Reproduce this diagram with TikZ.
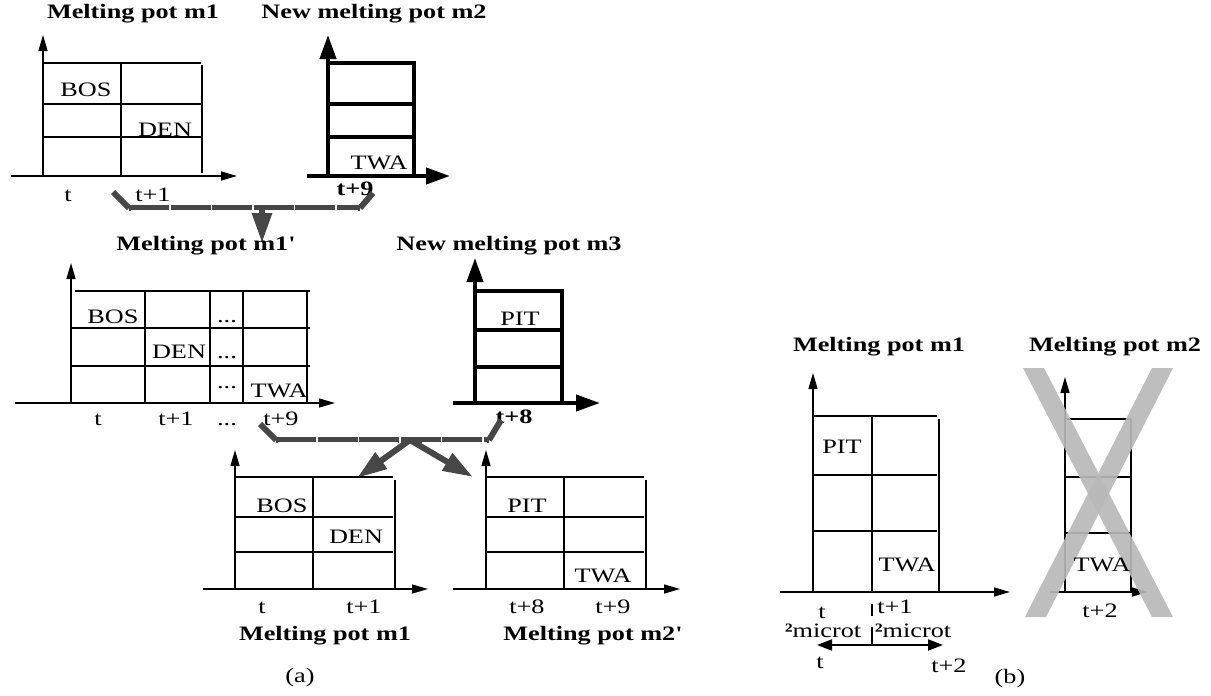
\documentclass[tikz,border=0pt]{standalone}
\usepackage{fontspec}
\setmainfont{Liberation Serif}
\usetikzlibrary{arrows.meta}
\newcommand{\sx}[1]{\scalebox{1.28}[1]{#1}}
\begin{document}
\begin{tikzpicture}[x=1pt,y=-1pt,
  every node/.style={inner sep=0pt,anchor=base,font=\fontsize{20.5}{24}\selectfont},
  ttl/.style={font=\fontsize{20.5}{24}\selectfont\bfseries},
  bt/.style={font=\fontsize{20.5}{24}\selectfont\bfseries},
  thinl/.style={line width=1.3pt},
  heavy/.style={line width=4pt},
  thinax/.style={line width=1.3pt,-{Triangle[width=9pt,length=16pt]}},
  heavyax/.style={line width=4pt,-{Triangle[width=16pt,length=24pt]}},
  bar/.style={line width=6pt,draw=black!72,line join=miter},
  bardash/.style={bar,dash pattern=on 40pt off 1.5pt},
  barseam/.style={draw=white,line width=0.7pt},
  bararrow/.style={bar,-{Triangle[width=19pt,length=30pt]},fill=black!72},
  cross/.style={fill=black!28,draw=none}
]
\useasboundingbox (0,0) rectangle (1211,696);

% ---------- Panel 1: Melting pot m1 ----------
\draw[thinax] (43,176) -- (43,35);
\draw[thinax] (11,176) -- (237,176);
\draw[thinl] (43,63) -- (201,63) (43,104) -- (201,104) (43,137) -- (201,137);
\draw[thinl] (121,63) -- (121,176) (202,65) -- (202,173);
\node[ttl] (p1t) at (133,19) {\sx{Melting pot m1}};
\node (p1bos) at (86,96) {\sx{BOS}};
\node (p1den) at (165,136) {\sx{DEN}};
\node (p1l1) at (68,201) {\sx{t}};
\node (p1l2) at (153,201) {\sx{t+1}};

% ---------- Panel 2: New melting pot m2 ----------
\draw[heavyax] (328,178) -- (328,35);
\draw[heavyax] (307,176) -- (450,176);
\draw[heavy] (326,63) -- (416,63) (328,104) -- (414,104) (328,137) -- (414,137);
\draw[heavy] (414,61) -- (414,176);
\node[ttl] (p2t) at (374,19) {\sx{New melting pot m2}};
\node (p2twa) at (379,169) {\sx{TWA}};
\node[bt] (p2l) at (355,195) {\sx{t+9}};

% ---------- Bracket 1 ----------
\coordinate (b1a) at (113,192);
\coordinate (b1b) at (129,208);
\coordinate (b1c) at (360,208);
\coordinate (b1d) at (373,193);
\coordinate (b1m) at (262,208);
\coordinate (b1t) at (262,243);
\coordinate (s1a) at (131,210);
\coordinate (s1b) at (358,210);
\draw[bar] (b1a) -- (b1b);
\draw[bardash] (b1b) -- (b1c);
\draw[bar] (b1c) -- (b1d);
\draw[barseam] (s1a) -- (s1b);
\draw[bararrow] (b1m) -- (b1t);

% ---------- Panel 3: Melting pot m1' ----------
\draw[thinax] (71,403) -- (71,263);
\draw[thinax] (15,403) -- (335,403);
\draw[thinl] (75,291) -- (310,291) (71,328) -- (310,328) (71,366) -- (310,366);
\draw[thinl] (145,291) -- (145,403) (210,291) -- (210,403) (243,291) -- (243,403) (307,291) -- (307,403);
\node[ttl] (p3t) at (206,250) {\sx{Melting pot m1\textquotesingle}};
\node (p3bos) at (113,323) {\sx{BOS}};
\node (p3den) at (179,358) {\sx{DEN}};
\node (p3d1) at (227,322) {\sx{...}};
\node (p3d2) at (227,358) {\sx{...}};
\node (p3d3) at (227,388) {\sx{...}};
\node (p3twa) at (279,397) {\sx{TWA}};
\node (p3l1) at (98,425) {\sx{t}};
\node (p3l2) at (176,425) {\sx{t+1}};
\node (p3l3) at (227,425) {\sx{...}};
\node (p3l4) at (281,425) {\sx{t+9}};

% ---------- Panel 4: New melting pot m3 ----------
\draw[heavyax] (475,405) -- (475,258);
\draw[heavyax] (453,403) -- (600,403);
\draw[heavy] (473,291) -- (564,291) (475,330) -- (562,330) (475,367) -- (562,367);
\draw[heavy] (562,289) -- (562,403);
\node[ttl] (p4t) at (509,250) {\sx{New melting pot m3}};
\node (p4pit) at (520,325) {\sx{PIT}};
\node[bt] (p4l) at (514,423) {\sx{t+8}};

% ---------- Bracket 2 ----------
\coordinate (b2a) at (260,424);
\coordinate (b2b) at (276,440);
\coordinate (b2c) at (489,440);
\coordinate (b2d) at (501,420);
\coordinate (b2m) at (410,440);
\coordinate (b2l) at (357,478);
\coordinate (b2r) at (473,477);
\coordinate (s2a) at (278,442);
\coordinate (s2b) at (398,442);
\coordinate (s2c) at (422,442);
\coordinate (s2d) at (487,442);
\draw[bar] (b2a) -- (b2b);
\draw[bardash] (b2b) -- (b2c);
\draw[bar] (b2c) -- (b2d);
\draw[barseam] (s2a) -- (s2b) (s2c) -- (s2d);
\draw[bararrow] (b2m) -- (b2l);
\draw[bararrow] (b2m) -- (b2r);

% ---------- Panel 5: Melting pot m1 (bottom) ----------
\draw[thinax] (235,589) -- (235,450);
\draw[thinax] (203,589) -- (428,589);
\draw[thinl] (235,477) -- (393,477) (235,517) -- (393,517) (235,552) -- (393,552);
\draw[thinl] (313,477) -- (313,589) (395,480) -- (395,589);
\node (p5bos) at (282,512) {\sx{BOS}};
\node (p5den) at (356,543) {\sx{DEN}};
\node (p5l1) at (262,613) {\sx{t}};
\node (p5l2) at (364,613) {\sx{t+1}};
\node[ttl] (p5t) at (325,640) {\sx{Melting pot m1}};
\node (capa) at (300,682) {\sx{(a)}};

% ---------- Panel 6: Melting pot m2' ----------
\draw[thinax] (486,589) -- (486,450);
\draw[thinax] (453,589) -- (680,589);
\draw[thinl] (486,477) -- (644,477) (486,517) -- (644,517) (486,552) -- (644,552);
\draw[thinl] (564,477) -- (564,589) (646,480) -- (646,589);
\node (p6pit) at (527,512) {\sx{PIT}};
\node (p6twa) at (603,582) {\sx{TWA}};
\node (p6l1) at (527,613) {\sx{t+8}};
\node (p6l2) at (613,613) {\sx{t+9}};
\node[ttl] (p6t) at (593,640) {\sx{Melting pot m2\textquotesingle}};

% ---------- Panel 7: (b) Melting pot m1 ----------
\draw[thinax] (813,592) -- (813,373);
\draw[thinax] (780,592) -- (1010,592);
\draw[thinl] (813,416) -- (937,416) (813,475) -- (937,475) (813,531) -- (937,531);
\draw[thinl] (872,416) -- (872,592) (939,419) -- (939,592);
\node[ttl] (p7t) at (879,351) {\sx{Melting pot m1}};
\node (p7pit) at (842,453) {\sx{PIT}};
\node (p7twa) at (907,571) {\sx{TWA}};
\node (p7l1) at (822,618) {\sx{t}};
\node (p7l2) at (895,613) {\sx{t+1}};
\node (p7m1) at (823,637) {\sx{{\bfseries ²}microt}};
\node (p7m2) at (913,637) {\sx{{\bfseries ²}microt}};
\coordinate (tk1) at (872,604);
\coordinate (tk2) at (872,616);
\coordinate (tk3) at (872,627);
\coordinate (tk4) at (872,645);
\draw[thinl] (tk1) -- (tk2) (tk3) -- (tk4);
\coordinate (da) at (817,645);
\coordinate (db) at (943,645);
\draw[line width=2pt,{Triangle[width=11pt,length=15pt]}-{Triangle[width=11pt,length=15pt]}] (da) -- (db);
\node (p7l3) at (820,668) {\sx{t}};
\node (p7l4) at (949,672) {\sx{t+2}};
\node (capb) at (1010,683) {\sx{(b)}};

% ---------- Panel 8: (b) Melting pot m2, crossed ----------
\draw[thinax] (1065,592) -- (1065,377);
\draw[thinax] (1050,592) -- (1148,592);
\draw[thinl] (1065,419) -- (1131,419) (1065,477) -- (1131,477) (1065,533) -- (1131,533);
\draw[thinl] (1131,419) -- (1131,592);
\node[ttl] (p8t) at (1115,351) {\sx{Melting pot m2}};
\node (p8l) at (1100,617) {\sx{t+2}};
\fill[cross,opacity=0.92] (1023,368) -- (1044,368) -- (1173,617) -- (1152,617) -- cycle;
\fill[cross,opacity=0.92] (1152,368) -- (1173,368) -- (1046,617) -- (1025,617) -- cycle;
\node (p8twa) at (1102,571) {\sx{TWA}};
\end{tikzpicture}
\end{document}
